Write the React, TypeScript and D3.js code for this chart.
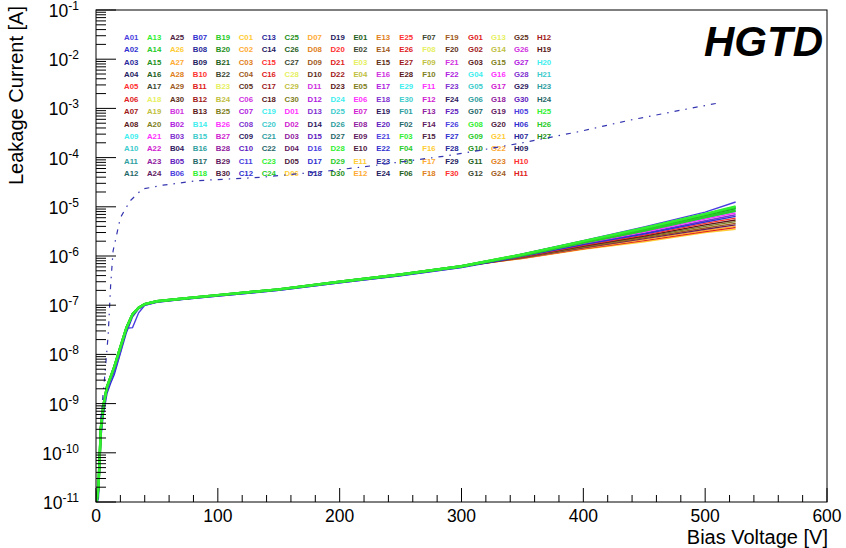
import React from 'react';
import * as d3 from 'd3';

// legend entries, column by column (12 per column)
const sensors = (
  'A01 A02 A03 A04 A05 A06 A07 A08 A09 A10 A11 A12 A13 A14 A15 A16 A17 A18 A19 A20 A21 A22 A23 A24 ' +
  'A25 A26 A27 A28 A29 A30 B01 B02 B03 B04 B05 B06 B07 B08 B09 B10 B11 B12 B13 B14 B15 B16 B17 B18 ' +
  'B19 B20 B21 B22 B23 B24 B25 B26 B27 B28 B29 B30 C01 C02 C03 C04 C05 C06 C07 C08 C09 C10 C11 C12 ' +
  'C13 C14 C15 C16 C17 C18 C19 C20 C21 C22 C23 C24 C25 C26 C27 C28 C29 C30 D01 D02 D03 D04 D05 D06 ' +
  'D07 D08 D09 D10 D11 D12 D13 D14 D15 D16 D17 D18 D19 D20 D21 D22 D23 D24 D25 D26 D27 D28 D29 D30 ' +
  'E01 E02 E03 E04 E05 E06 E07 E08 E09 E10 E11 E12 E13 E14 E15 E16 E17 E18 E19 E20 E21 E22 E23 E24 ' +
  'E25 E26 E27 E28 E29 E30 F01 F02 F03 F04 F05 F06 F07 F08 F09 F10 F11 F12 F13 F14 F15 F16 F17 F18 ' +
  'F19 F20 F21 F22 F23 F24 F25 F26 F27 F28 F29 F30 G01 G02 G03 G04 G05 G06 G07 G08 G09 G10 G11 G12 ' +
  'G13 G14 G15 G16 G17 G18 G19 G20 G21 G22 G23 G24 G25 G26 G27 G28 G29 G30 H05 H06 H07 H09 H10 H11 ' +
  'H12 H19 H20 H21 H23 H24 H25 H26 H27'
).split(' ');

// colour cycle used for the sensors (repeats every 35)
const palette = [
  '#4a3ee0', '#3030d0', '#28289a', '#1e2060',
  '#ff3030', '#e02020', '#a01818', '#5a1818',
  '#40eeee', '#3ccccc', '#2e9e9e', '#1f6868',
  '#30f030', '#28cc28', '#1e9020', '#1e6020', '#3c4630',
  '#e6f060', '#c0c040', '#7e7e20',
  '#ff30ff', '#d020d0', '#9020a0', '#601860', '#4e2040',
  '#ffcc33', '#ffaa33', '#e08020', '#a05a20', '#603018',
  '#d030e0', '#b020e0', '#8030d0', '#301860', '#6020c0',
];

// shared voltage grid [V]
const voltage = [0, 2, 4, 6, 9, 12, 15, 20, 25, 30, 35, 40, 50, 70, 100, 150, 200, 250, 300, 350, 400, 450, 500, 525];

// current up to 300 V [A]
const lowMain = [8e-12, 2e-11, 3.2e-10, 9e-10, 2.2e-9, 3.5e-9, 5.6e-9, 1.4e-8, 3.5e-8, 6.6e-8, 8.9e-8, 1.05e-7, 1.2e-7, 1.35e-7, 1.6e-7, 2.1e-7, 3.0e-7, 4.2e-7, 6.2e-7];
const lowKink = [8e-12, 1.5e-11, 2.5e-10, 8e-10, 1.9e-9, 3.0e-9, 4.4e-9, 1.1e-8, 3.4e-8, 3.5e-8, 7.0e-8, 1.0e-7, 1.16e-7, 1.3e-7, 1.54e-7, 2.0e-7, 2.85e-7, 4.0e-7, 5.9e-7];
const lowSlow = [8e-12, 1.2e-11, 2.0e-10, 6e-10, 1.6e-9, 2.6e-9, 3.9e-9, 1.05e-8, 2.8e-8, 5.8e-8, 8.4e-8, 1.0e-7, 1.15e-7, 1.3e-7, 1.53e-7, 2.0e-7, 2.85e-7, 3.95e-7, 5.8e-7];

// curves drawn: sensor, low-voltage part, current at 350/400/450/500/525 V
const curveSensor = ['A01', 'A02', 'A05', 'A08', 'A09', 'A11', 'A21', 'B03', 'A20', 'A29', 'A24', 'A27', 'A06', 'A26', 'A15', 'C24', 'B19', 'A13'];
const curveLow = [lowKink, lowSlow, lowMain, lowMain, lowMain, lowMain, lowMain, lowMain, lowMain, lowMain, lowMain, lowMain, lowMain, lowMain, lowMain, lowMain, lowMain, lowMain];
const curveTail = [
  [1.1e-6, 2.05e-6, 3.9e-6, 7.8e-6, 1.25e-5],
  [9.8e-7, 1.7e-6, 2.8e-6, 4.9e-6, 6.4e-6],
  [9.6e-7, 1.65e-6, 2.65e-6, 4.6e-6, 5.9e-6],
  [9.5e-7, 1.6e-6, 2.55e-6, 4.3e-6, 5.4e-6],
  [1.04e-6, 1.9e-6, 3.35e-6, 6.4e-6, 8.7e-6],
  [1.02e-6, 1.85e-6, 3.2e-6, 6.0e-6, 8.1e-6],
  [1.0e-6, 1.8e-6, 3.05e-6, 5.6e-6, 7.5e-6],
  [9.9e-7, 1.75e-6, 2.9e-6, 5.2e-6, 6.9e-6],
  [9.4e-7, 1.55e-6, 2.45e-6, 4.0e-6, 5.0e-6],
  [9.3e-7, 1.5e-6, 2.35e-6, 3.7e-6, 4.6e-6],
  [9.2e-7, 1.47e-6, 2.25e-6, 3.5e-6, 4.3e-6],
  [9.1e-7, 1.43e-6, 2.15e-6, 3.3e-6, 4.0e-6],
  [9.0e-7, 1.4e-6, 2.05e-6, 3.15e-6, 3.8e-6],
  [8.9e-7, 1.37e-6, 1.95e-6, 3.0e-6, 3.5e-6],
  [1.06e-6, 1.95e-6, 3.5e-6, 6.8e-6, 9.4e-6],
  [1.03e-6, 1.88e-6, 3.3e-6, 6.2e-6, 8.4e-6],
  [1.07e-6, 1.97e-6, 3.6e-6, 7.0e-6, 9.8e-6],
  [1.08e-6, 2.0e-6, 3.7e-6, 7.2e-6, 1.02e-5],
];

// dash-dotted reference curve
const refVoltage = [4, 7, 10, 12, 14, 20, 28, 38, 55, 83, 136, 192, 226, 249, 286, 311, 350, 370, 397, 438, 479, 513];
const refCurrent = [5e-10, 3.2e-9, 2.5e-8, 2.5e-7, 1.26e-6, 6.0e-6, 1.32e-5, 2.3e-5, 2.75e-5, 3.4e-5, 3.98e-5, 5.4e-5, 6.8e-5, 8.1e-5, 1.07e-4, 1.35e-4, 2.0e-4, 2.5e-4, 3.4e-4, 5.75e-4, 9.1e-4, 1.32e-3];

const xTicks = [0, 100, 200, 300, 400, 500, 600];
const yExponents = [-11, -10, -9, -8, -7, -6, -5, -4, -3, -2, -1];

const W = 846;
const H = 548;
const left = 96, right = 827, top = 10, bottom = 502;
const font = 'Liberation Sans, Arial, Helvetica, sans-serif';

export default function App() {
  const x = d3.scaleLinear().domain([0, 600]).range([left, right]);
  const y = d3.scaleLog().domain([1e-11, 1e-1]).range([bottom, top]);

  const line = d3.line<[number, number]>().x(d => x(d[0])).y(d => y(d[1]));

  const curves = curveSensor.map((s, i) => {
    const current = curveLow[i].concat(curveTail[i]);
    const pts = voltage.map((v, k) => [v, current[k]] as [number, number]);
    const color = palette[sensors.indexOf(s) % palette.length];
    return { s, pts, color, green: color === palette[12] || color === palette[13] || color === palette[14] };
  });
  const ordered = curves.filter(c => !c.green).reverse().concat(curves.filter(c => c.green));

  const refPts = refVoltage.map((v, k) => [v, refCurrent[k]] as [number, number]);

  const minorX = d3.range(0, 601, 20).filter(v => v % 100 !== 0);
  const minorY: number[] = [];
  yExponents.slice(0, -1).forEach(e => {
    for (let m = 2; m <= 9; m++) minorY.push(m * Math.pow(10, e));
  });

  return (
    <svg width={W} height={H} style={{ position: 'absolute', left: 0, top: 0, background: '#fff' }} fontFamily={font}>
      <defs>
        <clipPath id="frame">
          <rect x={left} y={top} width={right - left} height={bottom - top} />
        </clipPath>
      </defs>

      {/* legend text */}
      <g fontSize={7.8} fontWeight="bold">
        {sensors.map((s, i) => (
          <text key={s} x={124 + Math.floor(i / 12) * 22.94} y={40 + (i % 12) * 12.36} fill={palette[i % palette.length]}>
            {s}
          </text>
        ))}
      </g>

      <g clipPath="url(#frame)" fill="none">
        {ordered.map(c => (
          <path key={c.s} d={line(c.pts) || ''} stroke={c.color} strokeWidth={c.green ? 2.4 : 1.4} />
        ))}
        <path d={line(refPts) || ''} stroke="#3434b0" strokeWidth={1.2} strokeDasharray="5,6,1.5,6" />
      </g>

      {/* frame */}
      <rect x={left} y={top} width={right - left} height={bottom - top} fill="none" stroke="#000" strokeWidth={1} />

      {/* x axis */}
      {xTicks.map(v => (
        <g key={v}>
          <line x1={x(v)} x2={x(v)} y1={bottom} y2={bottom - 14} stroke="#000" />
          <text x={x(v)} y={522} textAnchor="middle" fontSize={17.5}>{v}</text>
        </g>
      ))}
      {minorX.map(v => (
        <line key={v} x1={x(v)} x2={x(v)} y1={bottom} y2={bottom - 7} stroke="#000" />
      ))}
      <text x={828} y={544} textAnchor="end" fontSize={20}>Bias Voltage [V]</text>

      {/* y axis */}
      {yExponents.map(e => (
        <g key={e}>
          <line x1={left} x2={left + 20} y1={y(Math.pow(10, e))} y2={y(Math.pow(10, e))} stroke="#000" />
          <text x={79} y={y(Math.pow(10, e)) + 7} textAnchor="end" fontSize={17.5}>
            10<tspan dy={-7} fontSize={12}>{'-' + Math.abs(e)}</tspan>
          </text>
        </g>
      ))}
      {minorY.map((v, i) => (
        <line key={i} x1={left} x2={left + 10} y1={y(v)} y2={y(v)} stroke="#000" />
      ))}
      <text transform="translate(23,6) rotate(-90)" textAnchor="end" fontSize={20}>Leakage Current [A]</text>

      <text x={823} y={56} textAnchor="end" fontSize={42} fontWeight="bold" fontStyle="italic">HGTD</text>
    </svg>
  );
}
